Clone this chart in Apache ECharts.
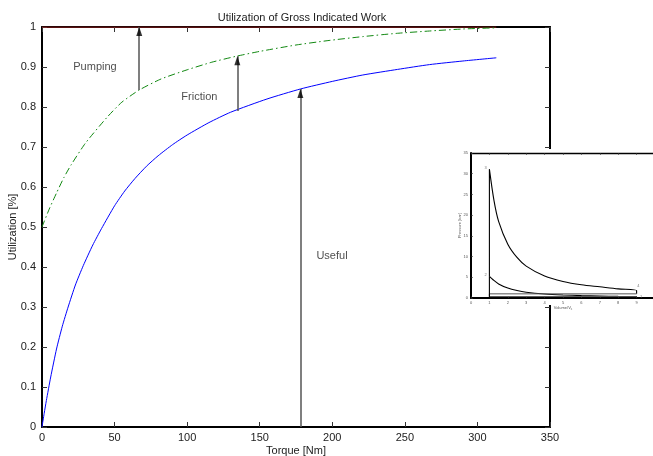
<!DOCTYPE html>
<html>
<head>
<meta charset="utf-8">
<script src="https://cdn.jsdelivr.net/npm/echarts@6/dist/echarts.min.js"></script>
<style>
  html, body { margin: 0; padding: 0; background: #fff; }
  #chart { width: 653px; height: 456px; }
</style>
</head>
<body>
<div id="chart"></div>
<script>
// Utilization curves versus brake torque
const usefulTorque = [0, 1.5, 3, 6, 10, 14, 18, 23, 28.5, 35, 41, 50, 57, 64, 72, 80, 90, 100, 115, 130, 155, 178, 200, 221, 245, 267, 290, 313];
const usefulShare  = [0, 0.034, 0.066, 0.125, 0.195, 0.252, 0.30, 0.355, 0.404, 0.455, 0.496, 0.553, 0.59, 0.621, 0.652, 0.678, 0.706, 0.73, 0.761, 0.787, 0.82, 0.845, 0.864, 0.88, 0.894, 0.906, 0.915, 0.923];

const frictionTorque = [0, 5, 10, 15, 20, 30, 45, 55, 67, 82, 100, 117, 134, 150, 175, 197, 221, 244, 267, 290, 313];
const frictionShare  = [0.5, 0.545, 0.585, 0.623, 0.655, 0.71, 0.775, 0.812, 0.8425, 0.87, 0.893, 0.912, 0.927, 0.939, 0.955, 0.966, 0.976, 0.984, 0.99, 0.995, 0.998];

const grossTorque = [0, 313];
const grossShare  = [1, 1];

// Arrows marking each loss band
const arrowTorque = [67, 134.6, 178];
const arrowFrom   = [0.8425, 0.79, 0];
const arrowTo     = [1, 0.927, 0.845];

// Band names
const bandNames  = ['Pumping', 'Friction', 'Useful'];
const bandTorque = [36.5, 108.4, 199.8];
const bandShare  = [0.9, 0.826, 0.4275];

// Main axis ticks
const torqueTicks = { min: 0, max: 350, step: 50 };
const shareTicks  = { min: 0, max: 1, step: 0.1 };

// p-V diagram of the cycle (volume relative to clearance volume, pressure in bar)
const expVolume   = [1, 1.25, 1.5, 2, 2.5, 3, 4, 5, 6, 7, 8, 9];
const expPressure = [31.1, 23.5, 18.5, 13, 9.8, 7.7, 5.3, 4.0, 3.2, 2.7, 2.2, 1.8];
const compVolume   = [9, 8, 7, 6, 5, 4, 3, 2.5, 2, 1.5, 1.2, 1];
const compPressure = [0.35, 0.4, 0.48, 0.58, 0.73, 0.97, 1.4, 1.8, 2.4, 3.4, 4.4, 5.2];
const exhaustPressure = 1.0;
const intakePressure  = 0.35;
const pumpVolume = [1, 9];
const stateNames    = ['1', '2', '3', '4'];
const stateVolume   = [9.25, 0.8, 0.8, 9.1];
const statePressure = [0.2, 5.6, 31.5, 3.0];
const volumeTicks   = { min: 0, max: 10, step: 1 };
const pressureTicks = { min: 0, max: 35, step: 5 };

const zip = (xs, ys) => xs.map((x, i) => [x, ys[i]]);

// closed cycle path: combustion, expansion, blowdown
const cyclePath = [[1, compPressure[compPressure.length - 1]]]
  .concat(zip(expVolume, expPressure))
  .concat([[9, exhaustPressure]]);
// exhaust and intake strokes
const pumpPath = [[pumpVolume[1], exhaustPressure], [pumpVolume[0], exhaustPressure],
                  [pumpVolume[0], intakePressure], [pumpVolume[1], intakePressure]];
const compPath = zip(compVolume, compPressure);
const leftEdge = [[1, 0], [1, compPressure[compPressure.length - 1]]];

const textColor = '#222';
const fontFamily = '"Liberation Sans", Arial, Helvetica, sans-serif';

function boxAxis(grid, pos, range, opts) {
  return Object.assign({
    type: 'value', gridIndex: grid, position: pos,
    min: range.min, max: range.max, interval: range.step,
    nameMoveOverlap: false,
    axisLine: { show: true, onZero: false, lineStyle: { color: '#000', width: 2 } },
    axisTick: { show: true, inside: true, length: 5, lineStyle: { color: '#333', width: 1 } },
    axisLabel: { show: false },
    splitLine: { show: false }
  }, opts || {});
}

const arrowShafts = arrowTorque.map((t, i) => [
  { coord: [t, arrowFrom[i]] }, { coord: [t, arrowTo[i]] }
]);

const insetAxisLabel = { show: true, fontSize: 4, color: '#555', margin: 3, fontFamily: fontFamily };
const insetTick = { show: true, inside: true, length: 2, lineStyle: { color: '#333', width: 0.6 } };

const option = {
  animation: false,
  backgroundColor: '#fff',
  textStyle: { fontFamily: fontFamily },
  title: {
    text: 'Utilization of Gross Indicated Work',
    left: 297, top: 7, textAlign: 'center',
    textStyle: { fontSize: 11, fontWeight: 'normal', color: textColor, fontFamily: fontFamily }
  },
  grid: [
    { left: 42, top: 27, width: 508, height: 400, outerBoundsMode: 'none', containLabel: false },
    { left: 471, top: 153, width: 184, height: 145, z: 6, outerBoundsMode: 'none', containLabel: false }
  ],
  graphic: [{
    type: 'rect', z: 5, silent: true,
    shape: { x: 455, y: 149, width: 198, height: 156 },
    style: { fill: '#fff' }
  }],
  xAxis: [
    boxAxis(0, 'bottom', torqueTicks, {
      axisLabel: { show: true, fontSize: 11, color: textColor, margin: 5, fontFamily: fontFamily },
      name: 'Torque [Nm]', nameLocation: 'middle', nameGap: 18,
      nameTextStyle: { fontSize: 11, color: textColor, fontFamily: fontFamily }
    }),
    boxAxis(0, 'top', torqueTicks),
    boxAxis(1, 'bottom', volumeTicks, {
      z: 8,
      axisTick: insetTick,
      axisLabel: insetAxisLabel,
      name: '{a|Volume/V}{b|c}', nameLocation: 'middle', nameGap: 7,
      nameTextStyle: {
        rich: {
          a: { fontSize: 4, color: '#555', fontFamily: fontFamily },
          b: { fontSize: 3, color: '#555', fontFamily: fontFamily, verticalAlign: 'bottom', padding: [3, 0, 0, 0] }
        }
      }
    }),
    boxAxis(1, 'top', volumeTicks, {
      z: 8,
      axisLine: { show: true, onZero: false, lineStyle: { color: '#000', width: 1.3 } },
      axisTick: insetTick
    })
  ],
  yAxis: [
    boxAxis(0, 'left', shareTicks, {
      axisLabel: { show: true, fontSize: 11, color: textColor, margin: 6, fontFamily: fontFamily },
      name: 'Utilization [%]', nameLocation: 'middle', nameGap: 24,
      nameTextStyle: { fontSize: 11, color: textColor, fontFamily: fontFamily }
    }),
    boxAxis(0, 'right', shareTicks),
    boxAxis(1, 'left', pressureTicks, {
      z: 8,
      axisTick: insetTick,
      axisLabel: insetAxisLabel,
      name: 'Pressure [bar]', nameLocation: 'middle', nameGap: 9,
      nameTextStyle: { fontSize: 4, color: '#555', fontFamily: fontFamily }
    }),
    boxAxis(1, 'right', pressureTicks, {
      z: 8,
      axisLine: { show: true, onZero: false, lineStyle: { color: '#000', width: 1.3 } },
      axisTick: insetTick
    })
  ],
  series: [
    {
      name: 'gross', type: 'line', xAxisIndex: 0, yAxisIndex: 0,
      data: zip(grossTorque, grossShare), symbol: 'none',
      lineStyle: { color: '#b22222', width: 1 }, z: 3
    },
    {
      name: 'after pumping', type: 'line', xAxisIndex: 0, yAxisIndex: 0,
      data: zip(frictionTorque, frictionShare), symbol: 'none', smooth: 0.2,
      lineStyle: { color: '#118811', width: 1, type: [7, 3, 1.5, 3] }, z: 3
    },
    {
      name: 'useful', type: 'line', xAxisIndex: 0, yAxisIndex: 0,
      data: zip(usefulTorque, usefulShare), symbol: 'none', smooth: 0.2,
      lineStyle: { color: '#0000ff', width: 1 }, z: 3
    },
    {
      name: 'arrow shafts', type: 'line', xAxisIndex: 0, yAxisIndex: 0, data: [], z: 4,
      markLine: {
        silent: true, animation: false,
        symbol: ['none', 'none'],
        label: { show: false },
        lineStyle: { color: '#555', width: 1.5, type: 'solid' },
        emphasis: { disabled: true },
        data: arrowShafts
      }
    },
    {
      name: 'arrow heads', type: 'scatter', xAxisIndex: 0, yAxisIndex: 0, z: 5,
      data: zip(arrowTorque, arrowTo),
      symbol: 'triangle', symbolSize: [6, 9], symbolOffset: [0, '50%'],
      itemStyle: { color: '#000' }, silent: true
    },
    {
      name: 'bands', type: 'scatter', xAxisIndex: 0, yAxisIndex: 0, symbolSize: 0, z: 4,
      data: bandTorque.map((t, i) => [t, bandShare[i], bandNames[i]]),
      label: {
        show: true, position: 'inside', fontSize: 11, color: textColor, fontFamily: fontFamily,
        formatter: p => p.value[2]
      }
    },
    // inset p-V diagram
    {
      name: 'cycle', type: 'line', xAxisIndex: 2, yAxisIndex: 2, z: 9,
      data: cyclePath, symbol: 'none', smooth: 0.3,
      lineStyle: { color: '#000', width: 1.1 }
    },
    {
      name: 'compression', type: 'line', xAxisIndex: 2, yAxisIndex: 2, z: 9,
      data: compPath, symbol: 'none', smooth: 0.3,
      lineStyle: { color: '#000', width: 1.1 }
    },
    {
      name: 'pumping loop', type: 'line', xAxisIndex: 2, yAxisIndex: 2, z: 9,
      data: pumpPath, symbol: 'none',
      lineStyle: { color: '#555', width: 1 }
    },
    {
      name: 'tdc', type: 'line', xAxisIndex: 2, yAxisIndex: 2, z: 9,
      data: leftEdge, symbol: 'none',
      lineStyle: { color: '#000', width: 1.1 }
    },
    {
      name: 'states', type: 'scatter', xAxisIndex: 2, yAxisIndex: 2, symbolSize: 0, z: 9,
      data: stateVolume.map((v, i) => [v, statePressure[i], stateNames[i]]),
      label: { show: true, position: 'inside', fontSize: 4, color: '#555', formatter: p => p.value[2] }
    }
  ]
};

const chart = echarts.init(document.getElementById('chart'), null, { renderer: 'canvas' });
chart.setOption(option);
</script>
</body>
</html>
